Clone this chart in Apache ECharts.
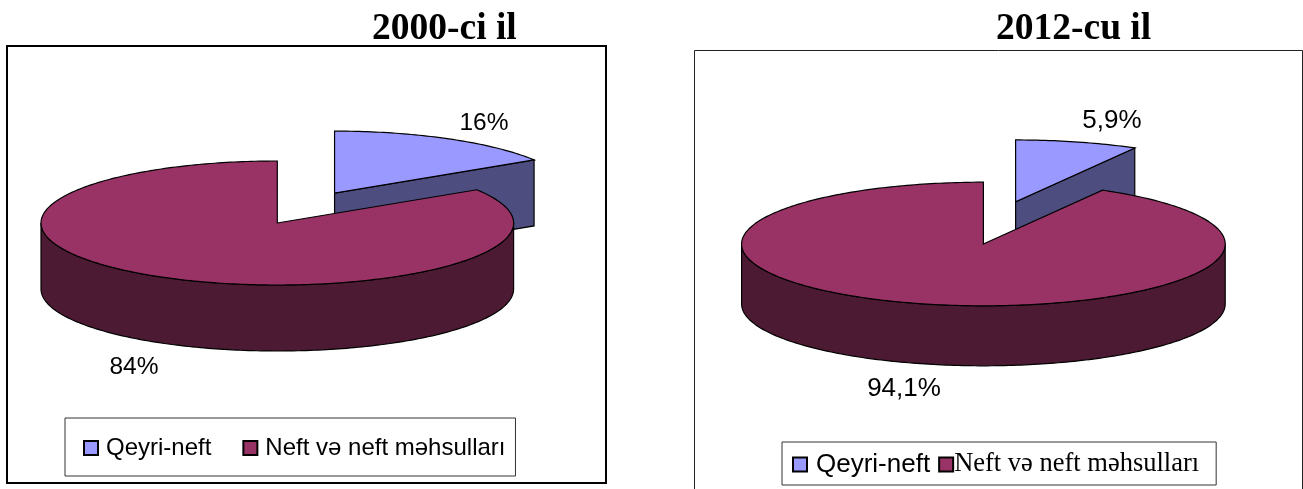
<!DOCTYPE html>
<html>
<head>
<meta charset="utf-8">
<title>2000-ci il / 2012-cu il</title>
<style>
  html, body { margin: 0; padding: 0; background: #fff; }
  #main { width: 1303px; height: 489px; }
</style>
<script src="https://cdn.jsdelivr.net/npm/echarts@6/dist/echarts.min.js"></script>
</head>
<body>
<div id="main"></div>
<script>
var categories = ['Qeyri-neft', 'Neft və neft məhsulları'];
var values2000 = [16, 84];
// the 2012 slice is printed as 5,9% but is drawn about 8,2% wide, the values follow the drawing
var values2012 = [8.2, 91.8];
var labels2000 = ['16%', '84%'];
var labels2012 = ['5,9%', '94,1%'];
var topColors = ['#9999ff', '#993366'];
var sideColors = ['#4d4d80', '#4d1a33'];

var pie2000 = {
  cx: 277.3, cy: 223, rx: 236.3, ry: 62, depth: 66,
  explode: [0.503, 0.55],
  labelAt: [[484, 123], [134, 367]],
  labelSize: 24.5
};
var pie2012 = {
  cx: 983.4, cy: 244, rx: 241.8, ry: 61.8, depth: 60,
  explode: [0.523, 0.707],
  labelAt: [[1112, 120.5], [904, 389]],
  labelSize: 26
};

// one slice of the tilted pie, angles go clockwise from 12 o'clock
function sliceSeries(index, values, labels, pie) {
  var total = values[0] + values[1];
  var before = index === 0 ? 0 : values[0];
  var start = before / total * 360;
  var end = (before + values[index]) / total * 360;

  return {
    type: 'custom',
    name: categories[index],
    coordinateSystem: 'none',
    silent: true,
    itemStyle: { color: topColors[index], borderColor: '#000', borderWidth: 1 },
    data: [[values[index]]],
    renderItem: function () {
      var mid = (start + end) / 2 * Math.PI / 180;
      var cx = pie.cx, cy = pie.cy;
      if (index === 0) {
        cx += Math.sin(mid) * pie.rx * pie.explode[0];
        cy -= Math.cos(mid) * pie.ry * pie.explode[1];
      }
      function rim(deg, down) {
        var a = deg * Math.PI / 180;
        return [cx + Math.sin(a) * pie.rx, cy - Math.cos(a) * pie.ry + (down || 0)];
      }
      function poly(points, fill) {
        return {
          type: 'polygon',
          shape: { points: points },
          style: { fill: fill, stroke: '#000', lineWidth: 1.2 }
        };
      }
      var children = [];
      var i, pts;

      // cut faces that look towards the viewer
      if (Math.sin(end * Math.PI / 180) > 0.001) {
        children.push(poly([[cx, cy], rim(end), rim(end, pie.depth), [cx, cy + pie.depth]], sideColors[index]));
      }
      if (Math.sin(start * Math.PI / 180) < -0.001) {
        children.push(poly([[cx, cy], rim(start), rim(start, pie.depth), [cx, cy + pie.depth]], sideColors[index]));
      }

      // front wall
      var wallFrom = Math.max(start, 90), wallTo = Math.min(end, 270);
      if (wallTo > wallFrom) {
        pts = [];
        for (i = wallFrom; i <= wallTo; i += 1) pts.push(rim(i));
        for (i = wallTo; i >= wallFrom; i -= 1) pts.push(rim(i, pie.depth));
        children.push(poly(pts, sideColors[index]));
      }

      // top
      pts = [[cx, cy]];
      for (i = start; i < end; i += 1) pts.push(rim(i));
      pts.push(rim(end));
      children.push(poly(pts, topColors[index]));

      children.push({
        type: 'text',
        x: pie.labelAt[index][0],
        y: pie.labelAt[index][1],
        style: {
          text: labels[index],
          fill: '#000',
          font: pie.labelSize + 'px "Liberation Sans", Arial, sans-serif',
          textAlign: 'center',
          textVerticalAlign: 'middle'
        }
      });
      return { type: 'group', children: children };
    }
  };
}

var myChart = echarts.init(document.getElementById('main'));
var sansText = '"Liberation Sans", Arial, sans-serif';
var serifText = '"Liberation Serif", serif';
var option = {
  animation: false,
  backgroundColor: '#fff',
  title: [
    {
      text: '2000-ci il', left: 372, top: 10, padding: 0,
      textStyle: { color: '#000', fontFamily: serifText, fontWeight: 'bold', fontSize: 37.5 }
    },
    {
      text: '2012-cu il', left: 996, top: 10, padding: 0,
      textStyle: { color: '#000', fontFamily: serifText, fontWeight: 'bold', fontSize: 37.5 }
    }
  ],
  legend: [
    {
      left: 65, top: 418, orient: 'horizontal', selectedMode: false, icon: 'rect',
      padding: [18, 10, 16, 18],
      itemWidth: 14, itemHeight: 14, itemGap: 31,
      backgroundColor: '#fff', borderColor: '#333', borderWidth: 1,
      textStyle: { color: '#000', fontFamily: sansText, fontSize: 24, padding: [0, 0, 0, 3] },
      data: categories
    },
    {
      left: 782, top: 442, orient: 'horizontal', selectedMode: false, icon: 'rect',
      padding: [9, 17, 7, 10],
      itemWidth: 14, itemHeight: 14, itemGap: 8,
      backgroundColor: '#fff', borderColor: '#333', borderWidth: 1,
      data: [
        { name: categories[0], textStyle: { color: '#000', fontFamily: sansText, fontSize: 26, padding: [4, 0, 0, 4] } },
        { name: categories[1], textStyle: { color: '#000', fontFamily: serifText, fontSize: 26.5, padding: [0, 0, 8, -4] } }
      ]
    }
  ],
  graphic: [
    { type: 'rect', z: -1, shape: { x: 7, y: 46, width: 599, height: 437 }, style: { fill: '#fff', stroke: '#000', lineWidth: 2 } },
    { type: 'rect', z: -1, shape: { x: 694.5, y: 50.5, width: 608, height: 450 }, style: { fill: '#fff', stroke: '#222', lineWidth: 1 } }
  ],
  series: [
    sliceSeries(0, values2000, labels2000, pie2000),
    sliceSeries(1, values2000, labels2000, pie2000),
    sliceSeries(0, values2012, labels2012, pie2012),
    sliceSeries(1, values2012, labels2012, pie2012)
  ]
};
myChart.setOption(option);
window.addEventListener('resize', function () {
  myChart.resize();
});
</script>
</body>
</html>
